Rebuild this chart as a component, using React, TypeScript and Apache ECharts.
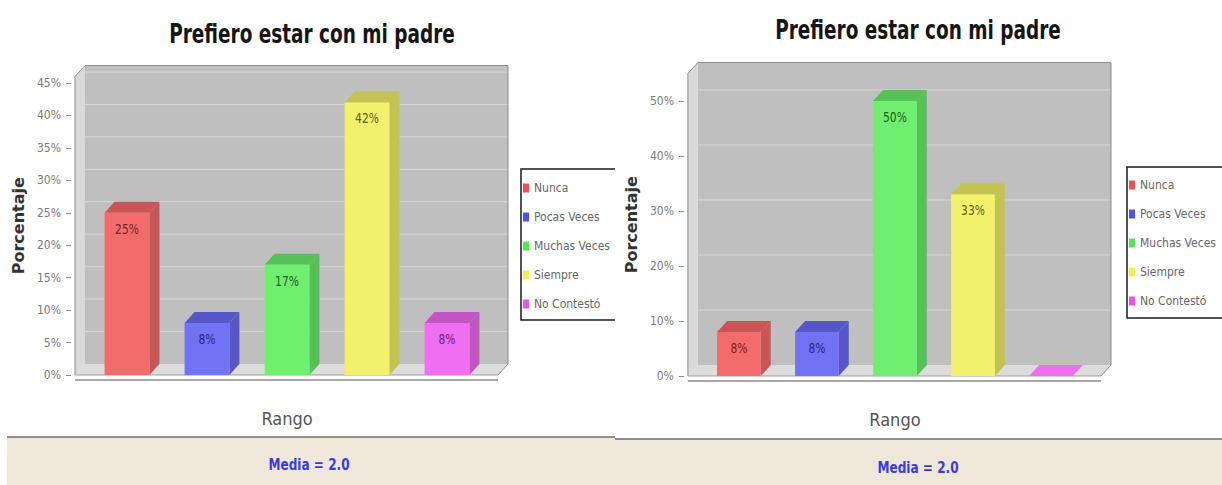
import React, { useEffect, useRef } from 'react';
import * as echarts from 'echarts';

// ---- data ----
const CATEGORIES = ['Nunca', 'Pocas Veces', 'Muchas Veces', 'Siempre', 'No Contestó'];
const LEFT_VALUES = [25, 8, 17, 42, 8];
const RIGHT_VALUES = [8, 8, 50, 33, 0];
const LEFT_TICKS = [0, 5, 10, 15, 20, 25, 30, 35, 40, 45];
const RIGHT_TICKS = [0, 10, 20, 30, 40, 50];
const LEFT_MAX = 46;
const RIGHT_MAX = 55;
const TITLE = 'Prefiero estar con mi padre';
const Y_NAME = 'Porcentaje';
const X_NAME = 'Rango';
const MEAN_TEXT = 'Media = 2.0';

// ---- styles ----
const FRONT = ['#f26c6c', '#7272f4', '#6fef6f', '#f1f16b', '#f06ff0'];
const SIDE = ['#c95656', '#5656c9', '#55c255', '#c3c34f', '#c354c3'];
const LABEL = ['#7d1e1e', '#26267d', '#1d5f1d', '#5f5f18', '#6d1d6d'];
const LEGEND_COLORS = ['#f05050', '#5050f0', '#50e850', '#f0f050', '#f050f0'];
const NARROW = "'Liberation Sans Narrow', 'DejaVu Sans Condensed', sans-serif";
const DX = 10;
const DY = 11;

type Layout = {
  width: number;
  gridLeft: number;
  gridTop: number;
  gridBottomY: number;
  max: number;
  ticks: number[];
  values: number[];
  titleX: number;
  titleY: number;
  legendLeft: number;
  legendBoxTop: number;
  legendBoxBottom: number;
  legendTop: number;
  bandX: number;
  bandY: number;
  meanX: number;
  meanY: number;
};

const LEFT_LAYOUT: Layout = {
  width: 615,
  gridLeft: 87,
  gridTop: 76.5,
  gridBottomY: 375,
  max: LEFT_MAX,
  ticks: LEFT_TICKS,
  values: LEFT_VALUES,
  titleX: 312,
  titleY: 34,
  legendLeft: 521,
  legendBoxTop: 169,
  legendBoxBottom: 320,
  legendTop: 181,
  bandX: 7,
  bandY: 437,
  meanX: 309,
  meanY: 464,
};

const RIGHT_LAYOUT: Layout = {
  width: 607,
  gridLeft: 75,
  gridTop: 73.5,
  gridBottomY: 376,
  max: RIGHT_MAX,
  ticks: RIGHT_TICKS,
  values: RIGHT_VALUES,
  titleX: 303,
  titleY: 30,
  legendLeft: 512,
  legendBoxTop: 167,
  legendBoxBottom: 318,
  legendTop: 178,
  bandX: 0,
  bandY: 439,
  meanX: 303,
  meanY: 467,
};

const makeWallRender = (ticks: number[]) => (params: any, api: any) => {
  const cs = params.coordSys;
  const L = cs.x - 12;
  const R = cs.x + cs.width + 11;
  const T = cs.y;
  const B = cs.y + cs.height;
  const children: any[] = [
    { type: 'rect', shape: { x: L + DX, y: T - DY, width: R - L, height: B - T }, style: { fill: '#bfbfbf' } },
    { type: 'polygon', shape: { points: [[L, T], [L + DX, T - DY], [L + DX, B - DY], [L, B]] }, style: { fill: '#d9d9d9' } },
    { type: 'polygon', shape: { points: [[L, B], [L + DX, B - DY], [R + DX, B - DY], [R, B]] }, style: { fill: '#dcdcdc' } },
  ];
  ticks.forEach((t) => {
    if (t <= 0) return;
    const y = api.coord([0, t])[1] - DY;
    children.push({ type: 'line', shape: { x1: L + DX, y1: y, x2: R + DX, y2: y }, style: { stroke: '#d6d6d6', lineWidth: 1 } });
  });
  children.push({
    type: 'polyline',
    shape: { points: [[L, B], [L, T], [L + DX, T - DY], [R + DX, T - DY], [R + DX, B - DY], [R, B]] },
    style: { stroke: '#8c8c8c', lineWidth: 1, fill: 'none' },
  });
  children.push({ type: 'line', shape: { x1: L, y1: B, x2: R, y2: B }, style: { stroke: '#a0a0a0', lineWidth: 1 } });
  children.push({ type: 'line', shape: { x1: L, y1: B + 5, x2: R, y2: B + 5 }, style: { stroke: '#555555', lineWidth: 1.2 } });
  return { type: 'group', children };
};

const makeBarRender = (i: number) => (params: any, api: any) => {
  const v = api.value(1);
  const base = api.coord([api.value(0), 0]);
  const top = api.coord([api.value(0), v]);
  const bw = api.size([1, 0])[0] * 0.56;
  const x0 = base[0] - bw / 2;
  const x1 = base[0] + bw / 2;
  const yb = base[1];
  const yt = top[1];
  const children: any[] = [];
  if (v > 0) {
    children.push({ type: 'polygon', shape: { points: [[x1, yt], [x1 + DX, yt - DY], [x1 + DX, yb - DY], [x1, yb]] }, style: { fill: SIDE[i] } });
  }
  children.push({
    type: 'polygon',
    shape: { points: [[x0, yt], [x0 + DX, yt - DY], [x1 + DX, yt - DY], [x1, yt]] },
    style: { fill: v > 0 ? SIDE[i] : FRONT[i] },
  });
  if (v > 0) {
    children.push({ type: 'rect', shape: { x: x0, y: yt, width: bw, height: yb - yt }, style: { fill: FRONT[i] } });
    children.push({
      type: 'text',
      x: base[0],
      y: yt + 16,
      scaleX: 0.85,
      style: {
        text: Math.round(v) + '%',
        x: 0,
        y: 0,
        align: 'center',
        verticalAlign: 'middle',
        fill: LABEL[i],
        font: `14px ${NARROW}`,
      },
    });
  }
  return { type: 'group', children };
};

const buildOption = (lay: Layout) => {
  const gridHeight = lay.gridBottomY - lay.gridTop;
  const series: any[] = [
    {
      type: 'custom',
      name: 'walls',
      z: 1,
      silent: true,
      data: [[0, 0]],
      renderItem: makeWallRender(lay.ticks),
    },
  ];
  CATEGORIES.forEach((c, i) => {
    series.push({
      type: 'custom',
      name: c,
      z: 2,
      itemStyle: { color: LEGEND_COLORS[i] },
      data: [[i, lay.values[i]]],
      renderItem: makeBarRender(i),
    });
  });
  return {
    animation: false,
    backgroundColor: '#ffffff',
    grid: { left: lay.gridLeft, top: lay.gridTop, width: 400, height: gridHeight },
    xAxis: {
      type: 'category',
      data: CATEGORIES,
      axisLine: { show: false },
      axisTick: { show: false },
      axisLabel: { show: false },
      name: X_NAME,
      nameLocation: 'middle',
      nameGap: 34,
      nameTextStyle: { fontFamily: NARROW, fontSize: 18, color: '#555555' },
    },
    yAxis: {
      type: 'value',
      min: 0,
      max: lay.max,
      offset: 16,
      axisLine: { show: false },
      axisTick: { show: true, length: 5, lineStyle: { color: '#8a8a8a' }, customValues: lay.ticks },
      axisLabel: {
        customValues: lay.ticks,
        formatter: (v: number) => v + '%',
        margin: 10,
        fontFamily: NARROW,
        fontSize: 12,
        color: '#7a7a7a',
      },
      splitLine: { show: false },
      name: Y_NAME,
      nameLocation: 'middle',
      nameRotate: 90,
      nameGap: 31,
      nameTextStyle: { fontFamily: "'DejaVu Sans', sans-serif", fontWeight: 'bold', fontSize: 16, color: '#333333' },
    },
    legend: {
      data: CATEGORIES,
      orient: 'vertical',
      left: lay.legendLeft + 2,
      top: lay.legendTop,
      padding: 0,
      itemWidth: 6,
      itemHeight: 9,
      itemGap: 15,
      icon: 'rect',
      selectedMode: false,
      textStyle: { fontFamily: NARROW, fontSize: 12, color: '#666666', lineHeight: 14 },
    },
    graphic: [
      {
        type: 'text',
        x: lay.titleX,
        y: lay.titleY,
        scaleX: 0.79,
        style: {
          text: TITLE,
          x: 0,
          y: 0,
          align: 'center',
          verticalAlign: 'middle',
          font: `bold 26px ${NARROW}`,
          fill: '#151515',
        },
      },
      {
        type: 'polyline',
        shape: {
          points: [
            [lay.width + 20, lay.legendBoxTop],
            [lay.legendLeft, lay.legendBoxTop],
            [lay.legendLeft, lay.legendBoxBottom],
            [lay.width + 20, lay.legendBoxBottom],
          ],
        },
        style: { stroke: '#1a1a1a', lineWidth: 1.5, fill: 'none' },
      },
      {
        type: 'rect',
        shape: { x: lay.bandX, y: lay.bandY, width: lay.width - lay.bandX + 10, height: 60 },
        style: { fill: '#ede8da' },
      },
      {
        type: 'line',
        shape: { x1: lay.bandX, y1: lay.bandY, x2: lay.width + 10, y2: lay.bandY },
        style: { stroke: '#6e6e6e', lineWidth: 1.5 },
      },
      {
        type: 'text',
        x: lay.meanX,
        y: lay.meanY,
        scaleX: 0.84,
        style: {
          text: MEAN_TEXT,
          x: 0,
          y: 0,
          align: 'center',
          verticalAlign: 'middle',
          font: `bold 16px ${NARROW}`,
          fill: '#3a3ae2',
        },
      },
    ],
    series,
  };
};

const Chart: React.FC<{ lay: Layout; left: number }> = ({ lay, left }) => {
  const ref = useRef<HTMLDivElement>(null);
  useEffect(() => {
    if (!ref.current) return;
    const chart = echarts.init(ref.current, null, { renderer: 'svg' });
    chart.setOption(buildOption(lay) as any);
    return () => chart.dispose();
  }, [lay]);
  return (
    <div
      ref={ref}
      style={{ position: 'fixed', left, top: 0, width: lay.width, height: 485, overflow: 'hidden', background: '#fff' }}
    />
  );
};

export default function App() {
  return (
    <>
      <Chart lay={LEFT_LAYOUT} left={0} />
      <Chart lay={RIGHT_LAYOUT} left={615} />
    </>
  );
}
